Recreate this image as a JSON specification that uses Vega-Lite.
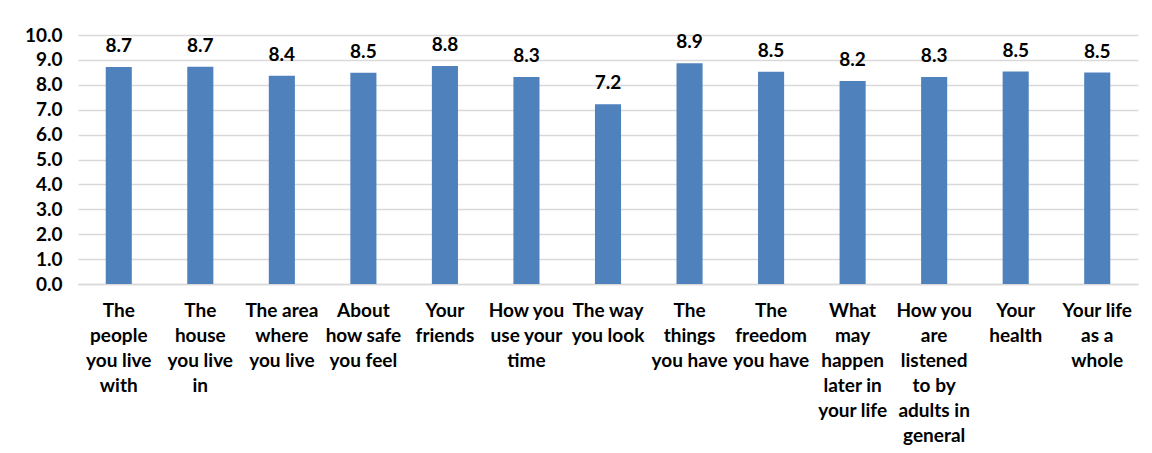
{
  "$schema": "https://vega.github.io/schema/vega-lite/v6.json",
  "width": 1060,
  "height": 249,
  "autosize": {"type": "none"},
  "padding": {"left": 78, "top": 35, "right": 14, "bottom": 169},
  "background": "white",
  "config": {
    "view": {"stroke": null},
    "font": "Lato",
    "axis": {"labelFont": "Lato", "labelFontWeight": "bold", "labelFontSize": 19, "labelColor": "#000000"}
  },
  "data": {
    "values": [
      {"category": "The|people|you live|with", "value": 8.71},
      {"category": "The|house|you live|in", "value": 8.72},
      {"category": "The area|where|you live", "value": 8.36},
      {"category": "About|how safe|you feel", "value": 8.48},
      {"category": "Your|friends", "value": 8.76},
      {"category": "How you|use your|time", "value": 8.31},
      {"category": "The way|you look", "value": 7.22},
      {"category": "The|things|you have", "value": 8.87},
      {"category": "The|freedom|you have", "value": 8.52},
      {"category": "What|may|happen|later in|your life", "value": 8.15},
      {"category": "How you|are|listened|to by|adults in|general", "value": 8.31},
      {"category": "Your|health", "value": 8.53},
      {"category": "Your life|as a|whole", "value": 8.49}
    ]
  },
  "encoding": {
    "x": {
      "field": "category",
      "type": "nominal",
      "sort": null,
      "scale": {"paddingInner": 0.68, "paddingOuter": 0.34},
      "axis": {
        "title": null,
        "labelAngle": 0,
        "ticks": false,
        "domain": true,
        "domainColor": "#d9d9d9",
        "domainWidth": 1.5,
        "labelPadding": 17,
        "labelBaseline": "top",
        "labelLineHeight": 25,
        "labelExpr": "split(datum.label, '|')"
      }
    },
    "y": {
      "field": "value",
      "type": "quantitative",
      "scale": {"domain": [0, 10], "nice": false},
      "axis": {
        "title": null,
        "values": [0, 1, 2, 3, 4, 5, 6, 7, 8, 9, 10],
        "format": ".1f",
        "ticks": false,
        "domain": false,
        "labelPadding": 16,
        "gridColor": "#d9d9d9",
        "gridWidth": 1.5
      }
    }
  },
  "layer": [
    {"mark": {"type": "bar", "color": "#4f81bd"}},
    {
      "mark": {"type": "text", "baseline": "alphabetic", "dy": -15, "fontSize": 19, "fontWeight": "bold", "font": "Lato", "color": "#000000"},
      "encoding": {"text": {"field": "value", "type": "quantitative", "format": ".1f"}}
    }
  ]
}
